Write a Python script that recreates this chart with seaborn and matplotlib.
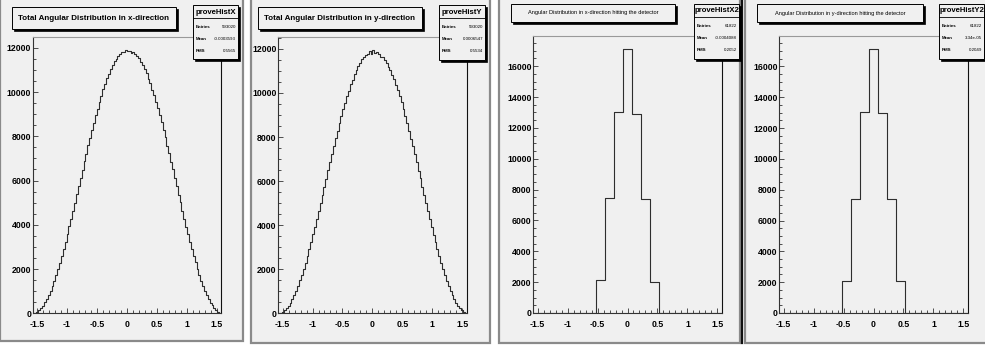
import numpy as np
import pandas as pd
import matplotlib
matplotlib.use('Agg')
import matplotlib.pyplot as plt
from matplotlib.patches import Rectangle
from matplotlib.lines import Line2D
from matplotlib.ticker import MultipleLocator
import seaborn as sns

# Histogram contents
counts_x = [5, 28, 70, 150, 240, 345, 495, 640, 830, 1020,
            1250, 1470, 1745, 2000, 2290, 2605, 2900, 3245, 3570, 3930,
            4270, 4640, 4990, 5380, 5740, 6120, 6480, 6870, 7210, 7590,
            7930, 8290, 8610, 8960, 9250, 9570, 9840, 10140, 10370, 10620,
            10820, 11050, 11200, 11390, 11490, 11640, 11700, 11790, 11820, 11880,
            11840, 11860, 11760, 11800, 11720, 11610, 11520, 11360, 11230, 11020,
            10850, 10600, 10390, 10110, 9860, 9550, 9270, 8940, 8630, 8280,
            7950, 7570, 7230, 6850, 6500, 6110, 5750, 5360, 5010, 4630,
            4280, 3910, 3580, 3230, 2920, 2590, 2300, 2000, 1740, 1480,
            1240, 1030, 820, 650, 480, 355, 230, 145, 75, 25]
counts_y = [4, 30, 75, 140, 235, 350, 480, 650, 820, 1030,
            1240, 1490, 1730, 2010, 2300, 2590, 2920, 3230, 3580, 3920,
            4280, 4630, 5010, 5360, 5750, 6110, 6490, 6850, 7230, 7580,
            7940, 8280, 8630, 8940, 9270, 9560, 9860, 10110, 10390, 10610,
            10840, 11030, 11220, 11370, 11520, 11610, 11730, 11780, 11920, 11760,
            11930, 11800, 11850, 11780, 11640, 11620, 11500, 11380, 11200, 11040,
            10830, 10620, 10370, 10130, 9850, 9570, 9260, 8950, 8620, 8290,
            7930, 7590, 7220, 6860, 6480, 6120, 5740, 5370, 5000, 4640,
            4270, 3930, 3570, 3240, 2910, 2600, 2290, 2010, 1740, 1480,
            1250, 1020, 830, 640, 490, 350, 235, 145, 70, 28]
counts_x2 = [0] * 7 + [2130, 7430, 13030, 17100, 12900, 7400, 2020] + [0] * 7
counts_y2 = [0] * 7 + [2050, 7400, 13050, 17120, 12990, 7420, 2100] + [0] * 7

titles = ['Total Angular Distribution in x-direction',
          'Total Angular Distribution in y-direction',
          'Angular Distribution in x-direction hitting the detector',
          'Angular Distribution in y-direction hitting the detector']
hist_names = ['proveHistX', 'proveHistY', 'proveHistX2', 'proveHistY2']
entries = ['593020', '593020', '61822', '61822']
means = ['-0.0003593', '0.0006547', '-0.0004088', '3.34e-05']
rms = ['0.5565', '0.5534', '0.2052', '0.2049']
xtick_vals = [-1.5, -1, -0.5, 0, 0.5, 1, 1.5]
xtick_labels = ['-1.5', '-1', '-0.5', '0', '0.5', '1', '1.5']

W, H = 985, 351
BG = '#f0f0f0'
FONT = ['Liberation Sans', 'DejaVu Sans']
plt.rcParams['font.family'] = FONT


def fx(x):
    return x / W


def fy(y):
    return 1 - y / H


def box(fig, x0, y0, x1, y1, fc, ec, lw, z):
    r = Rectangle((fx(x0), fy(y1)), (x1 - x0) / W, (y1 - y0) / H, fc=fc, ec=ec,
                  lw=lw, transform=fig.transFigure, zorder=z)
    fig.add_artist(r)


def shadow_box(fig, x0, y0, x1, y1):
    box(fig, x0 + 2, y0 + 2, x1 + 2, y1 + 2, 'black', 'black', 0.5, 5)
    box(fig, x0, y0, x1, y1, BG, 'black', 0.7, 6)


fig = plt.figure(figsize=(W / 100, H / 100), dpi=100)
fig.patch.set_facecolor('white')

canvases = [(0, -2, 243, 341), (251, -2, 490, 343), (499, -2, 740, 343), (745, -2, 987, 343)]
frames = [(32.7, 37.3, 221, 313.3), (278.3, 37.3, 466.6, 313.3),
          (533.3, 36, 721.7, 313), (779.3, 36, 967.7, 313)]
title_boxes = [(11.7, 7.3, 176, 29.3), (257.7, 7.3, 421.7, 29.3),
               (511, 3.5, 675, 21.7), (756.7, 4, 923.3, 22)]
title_sizes = [5.8, 5.8, 4.1, 4.1]
title_weights = ['bold', 'bold', 'normal', 'normal']
stat_boxes = [(193.3, 5, 238, 59), (439.3, 5, 485, 60),
              (694, 4, 739, 59), (939.3, 4, 984, 59)]
all_counts = [counts_x, counts_y, counts_x2, counts_y2]

for (x0, y0, x1, y1) in canvases:
    box(fig, x0, y0, x1, y1, BG, '#8a8a8a', 1.6, 0)
fig.add_artist(Line2D([fx(742), fx(742)], [fy(343), 1], color='#111111', lw=1.6,
                      transform=fig.transFigure, zorder=1))

for i in range(4):
    counts = np.array(all_counts[i], dtype=float)
    edges = np.linspace(-np.pi / 2, np.pi / 2, len(counts) + 1)
    df = pd.DataFrame({'angle': 0.5 * (edges[:-1] + edges[1:]), 'n': counts})

    l, t, r, b = frames[i]
    ax = fig.add_axes([fx(l), fy(b), (r - l) / W, (b - t) / H])
    ax.set_facecolor(BG)
    sns.histplot(data=df, x='angle', weights='n', bins=list(edges), element='step',
                 fill=False, color='#2e2e2e', linewidth=0.8, ax=ax)
    ax.set_xlim(-np.pi / 2, np.pi / 2)
    ymax = counts.max() * 1.05
    ax.set_ylim(0, ymax)
    ax.set_xlabel('')
    ax.set_ylabel('')

    ax.set_xticks(xtick_vals, labels=xtick_labels)
    ax.xaxis.set_minor_locator(MultipleLocator(0.1))
    yt = list(range(0, int(ymax) + 1, 2000))
    ax.set_yticks(yt, labels=[str(v) for v in yt])
    ax.yaxis.set_minor_locator(MultipleLocator(500))
    ax.tick_params(which='major', direction='in', length=3.8, width=0.6, color='#333333')
    ax.tick_params(which='minor', direction='in', length=2.0, width=0.6, color='#333333')
    ax.tick_params(axis='x', which='major', pad=5)
    ax.tick_params(axis='y', which='major', pad=1.2)
    for lab in ax.get_xticklabels() + ax.get_yticklabels():
        lab.set_fontsize(6.3)
        lab.set_fontweight('bold')
        lab.set_family(FONT)
    ax.spines['left'].set_color('#333333')
    ax.spines['bottom'].set_color('#333333')
    ax.spines['top'].set_color('#999999')
    ax.spines['right'].set_color('#111111')
    for s in ax.spines.values():
        s.set_linewidth(0.8)

    # title pave
    tx0, ty0, tx1, ty1 = title_boxes[i]
    shadow_box(fig, tx0, ty0, tx1, ty1)
    fig.text(fx((tx0 + tx1) / 2), fy((ty0 + ty1) / 2), titles[i], ha='center', va='center',
             fontsize=title_sizes[i], fontweight=title_weights[i], zorder=7)

    # stats box
    sx0, sy0, sx1, sy1 = stat_boxes[i]
    shadow_box(fig, sx0, sy0, sx1, sy1)
    fig.add_artist(Line2D([fx(sx0), fx(sx1)], [fy(sy0 + 13), fy(sy0 + 13)], color='black',
                          lw=0.6, transform=fig.transFigure, zorder=7))
    fig.text(fx((sx0 + sx1) / 2), fy(sy0 + 7), hist_names[i], ha='center', va='center',
             fontsize=5.6, fontweight='bold', zorder=7)
    for k, (name, val) in enumerate(zip(['Entries', 'Mean', 'RMS'],
                                        [entries[i], means[i], rms[i]])):
        yy = sy0 + 22 + k * 12
        fig.text(fx(sx0 + 2.5), fy(yy), name, ha='left', va='center', fontsize=3.2,
                 fontweight='bold', zorder=7)
        fig.text(fx(sx1 - 2), fy(yy), val, ha='right', va='center', fontsize=3.2, zorder=7)

fig.savefig('out.png', dpi=100, facecolor=fig.get_facecolor())
